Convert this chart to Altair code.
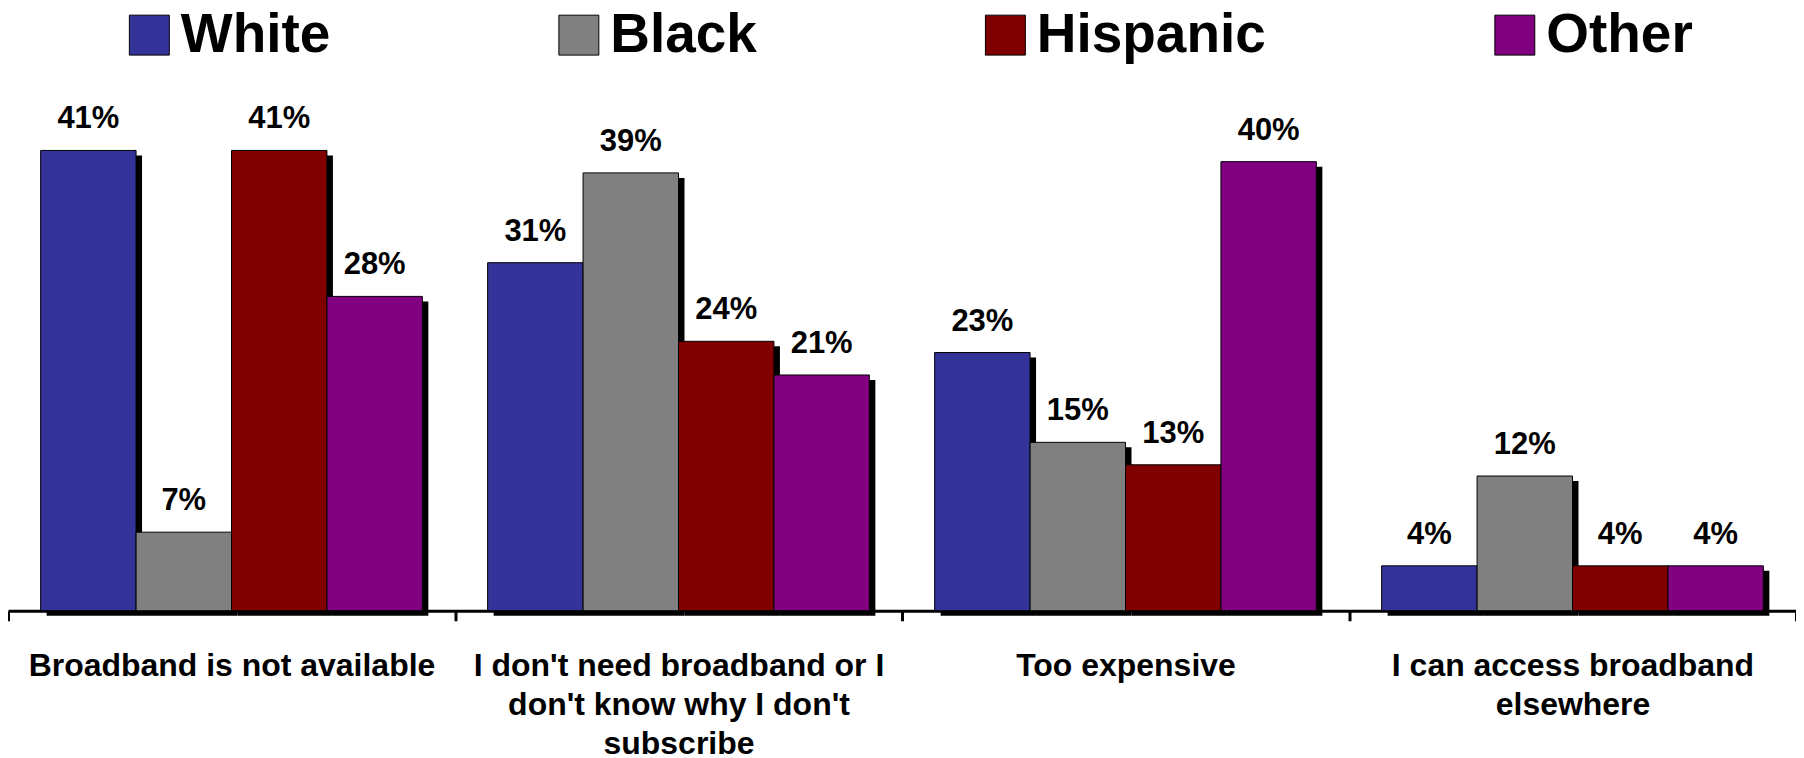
import altair as alt
import pandas as pd

categories = [
    "Broadband is not available",
    "I don't need broadband or I\ndon't know why I don't\nsubscribe",
    "Too expensive",
    "I can access broadband\nelsewhere",
]
races = ["White", "Black", "Hispanic", "Other"]
white = [41, 31, 23, 4]
black = [7, 39, 15, 12]
hispanic = [41, 24, 13, 4]
other = [28, 21, 40, 4]
colors = ["#333399", "#808080", "#800000", "#800080"]

rows = []
for race, vals in zip(races, [white, black, hispanic, other]):
    for cat, v in zip(categories, vals):
        rows.append({"category": cat, "race": race, "value": v, "label": f"{v}%"})
df = pd.DataFrame(rows)

FONT = "Liberation Sans"
W, H = 1790, 603
STEP = W / len(categories)
PAD = STEP * 0.073
BAR = (STEP - 2 * PAD) / len(races)
SH_X = 6

x_enc = alt.X(
    "category:N",
    sort=categories,
    scale=alt.Scale(domain=categories, paddingInner=0, paddingOuter=0),
    axis=alt.Axis(
        title=None, labelAngle=0, labelFont=FONT, labelFontSize=32,
        labelFontWeight="bold", labelColor="black", labelLineHeight=39,
        labelExpr="split(datum.label, '\\n')", labelPadding=30,
        tickBand="extent", tickSize=10, tickWidth=3, tickColor="black",
        domainColor="black", domainWidth=3, labelLimit=0, grid=False,
    ),
)
y_enc = alt.Y("value:Q", scale=alt.Scale(domain=[0, 53.65], nice=False, zero=True), axis=None)


def xoff(shift):
    return alt.XOffset(
        "race:N", sort=races,
        scale=alt.Scale(type="band", domain=races,
                        range=[PAD + shift, STEP - PAD + shift],
                        paddingInner=0, paddingOuter=0),
    )


base = alt.Chart(df)

shadow = base.mark_bar(color="black", yOffset=5).encode(
    x=x_enc, y=y_enc, xOffset=xoff(SH_X),
)

bars = base.mark_bar(stroke="black", strokeWidth=1).encode(
    x=x_enc,
    y=y_enc,
    xOffset=xoff(0),
    fill=alt.Fill(
        "race:N",
        scale=alt.Scale(domain=races, range=colors),
        legend=alt.Legend(
            title=None, orient="none", legendX=114, legendY=-1,
            direction="horizontal", columns=4, symbolType="square",
            symbolSize=1600, symbolStrokeColor="black", symbolStrokeWidth=1,
            symbolOpacity=1, labelFont=FONT, labelFontSize=55,
            labelFontWeight="bold", labelColor="black", labelOffset=4,
            columnPadding=221, padding=0, labelLimit=0,
        ),
    ),
)

text = base.mark_text(
    font=FONT, fontSize=31, fontWeight="bold", color="black",
    baseline="alphabetic", dy=-22,
).encode(
    x=x_enc,
    y=y_enc,
    xOffset=alt.XOffset(
        "race:N", sort=races,
        scale=alt.Scale(type="point", domain=races,
                        range=[PAD + BAR / 2, STEP - PAD - BAR / 2], padding=0),
    ),
    text="label:N",
)

chart = (
    alt.layer(shadow, bars, text)
    .resolve_scale(xOffset="independent")
    .properties(
        width=W, height=H,
        padding={"left": 0, "top": 0, "right": 0, "bottom": 150},
        autosize=alt.AutoSizeParams(type="none"),
        background="white",
    )
    .configure_view(stroke=None)
)

chart.save("out.html", embed_options={"renderer": "svg", "actions": False})
